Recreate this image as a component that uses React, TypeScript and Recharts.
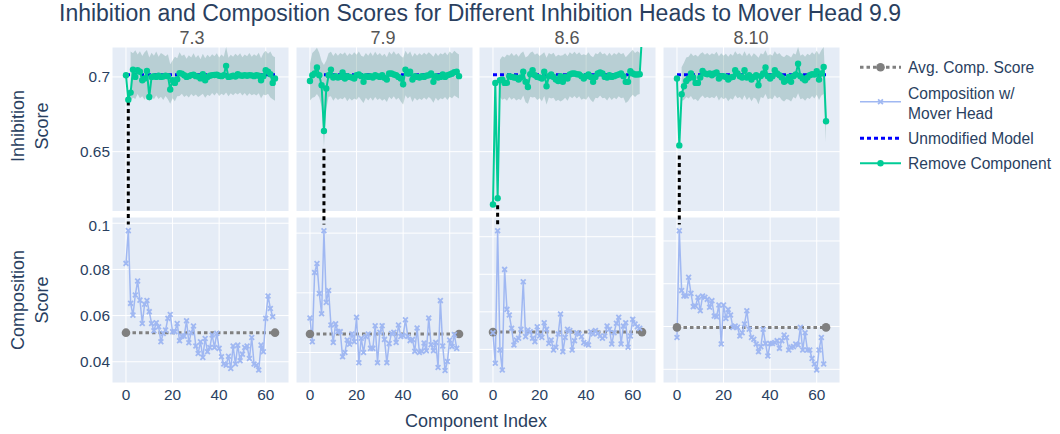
import React from 'react';
import { ComposedChart, Line, Area, XAxis, YAxis, CartesianGrid, ReferenceLine } from 'recharts';

// Inhibition heads shown as columns
const HEADS = ['7.3', '7.9', '8.6', '8.10'];
const LEGEND_LABELS = ['Avg. Comp. Score', 'Composition w/|Mover Head', 'Unmodified Model', 'Remove Component'];

// Inhibition score after removing each component (index 0..64)
const REMOVE_73 = [0.7011, 0.6848, 0.6895, 0.7049, 0.7000, 0.7045, 0.7034, 0.6978, 0.6989, 0.7040, 0.6866, 0.7000, 0.7005, 0.7000, 0.7008, 0.7000, 0.7003, 0.7008, 0.7005, 0.6916, 0.6978, 0.6960, 0.6985, 0.7025, 0.7022, 0.7011, 0.7000, 0.7005, 0.7012, 0.7015, 0.7005, 0.7002, 0.6990, 0.7018, 0.6978, 0.7000, 0.7008, 0.7012, 0.7013, 0.7015, 0.7008, 0.7005, 0.7012, 0.7074, 0.7000, 0.7003, 0.7008, 0.7003, 0.7018, 0.7010, 0.7008, 0.7012, 0.7008, 0.7012, 0.7010, 0.7005, 0.7012, 0.7008, 0.6978, 0.7005, 0.7045, 0.7034, 0.7018, 0.6960, 0.6989];
const REMOVE_79 = [0.6973, 0.7011, 0.7023, 0.7063, 0.7011, 0.6944, 0.6638, 0.6922, 0.7011, 0.7049, 0.6996, 0.7005, 0.6996, 0.7000, 0.7029, 0.6989, 0.7005, 0.7000, 0.6996, 0.6989, 0.7011, 0.7016, 0.7005, 0.6967, 0.7005, 0.7000, 0.7005, 0.6996, 0.7011, 0.7005, 0.7000, 0.7011, 0.6994, 0.6982, 0.7023, 0.7023, 0.7016, 0.7011, 0.7000, 0.6989, 0.6951, 0.7049, 0.7023, 0.7034, 0.6982, 0.7005, 0.7000, 0.6996, 0.7005, 0.7000, 0.7008, 0.7011, 0.7023, 0.6967, 0.7005, 0.6996, 0.7000, 0.7016, 0.7000, 0.7011, 0.7016, 0.7023, 0.7032, 0.7034, 0.7005];
const REMOVE_86 = [0.6147, 0.6960, 0.6189, 0.6978, 0.6982, 0.6960, 0.6960, 0.7005, 0.7000, 0.6996, 0.6994, 0.6982, 0.6996, 0.7034, 0.6967, 0.6933, 0.7018, 0.7045, 0.7011, 0.7000, 0.6996, 0.6989, 0.7034, 0.6938, 0.7005, 0.7016, 0.7000, 0.6982, 0.6973, 0.7005, 0.6967, 0.7000, 0.6989, 0.7016, 0.7023, 0.7023, 0.7018, 0.7016, 0.7005, 0.6989, 0.7005, 0.7016, 0.7000, 0.6967, 0.7000, 0.7023, 0.7029, 0.7023, 0.7000, 0.6996, 0.7011, 0.7000, 0.7005, 0.7011, 0.7016, 0.7023, 0.7005, 0.6967, 0.6967, 0.7038, 0.7023, 0.7016, 0.7016, 0.7018, 0.7280];
const REMOVE_810 = [0.6989, 0.6542, 0.6884, 0.6938, 0.6973, 0.6989, 0.7023, 0.6996, 0.6960, 0.6960, 0.6996, 0.7040, 0.7023, 0.7018, 0.7023, 0.7011, 0.7023, 0.7029, 0.6989, 0.7005, 0.7005, 0.7000, 0.6982, 0.6996, 0.7000, 0.7045, 0.7023, 0.7005, 0.6996, 0.7045, 0.6996, 0.7011, 0.6982, 0.7000, 0.7011, 0.6944, 0.7005, 0.7023, 0.7063, 0.7005, 0.6989, 0.7005, 0.7045, 0.7023, 0.7011, 0.6996, 0.6967, 0.6978, 0.7000, 0.6967, 0.7005, 0.7016, 0.7088, 0.7005, 0.6989, 0.6978, 0.6996, 0.7011, 0.7018, 0.7016, 0.7038, 0.6982, 0.7023, 0.7067, 0.6703];

// Spread band around the remove-component score
const BAND_HI_73 = [null, null, 0.7170, 0.7158, 0.7178, 0.7150, 0.7172, 0.7140, 0.7165, 0.7180, 0.7130, 0.7162, 0.7142, 0.7170, 0.7135, 0.7160, 0.7150, 0.7138, 0.7152, 0.7085, 0.7110, 0.7135, 0.7125, 0.7165, 0.7140, 0.7150, 0.7122, 0.7145, 0.7130, 0.7158, 0.7128, 0.7146, 0.7118, 0.7155, 0.7125, 0.7148, 0.7132, 0.7152, 0.7138, 0.7158, 0.7130, 0.7150, 0.7135, 0.7200, 0.7128, 0.7148, 0.7135, 0.7155, 0.7140, 0.7158, 0.7132, 0.7150, 0.7138, 0.7160, 0.7135, 0.7152, 0.7140, 0.7162, 0.7125, 0.7158, 0.7175, 0.7155, 0.7170, 0.7140, 0.7132];
const BAND_LO_73 = [null, null, 0.6840, 0.6862, 0.6852, 0.6885, 0.6858, 0.6870, 0.6848, 0.6880, 0.6835, 0.6872, 0.6850, 0.6875, 0.6852, 0.6868, 0.6845, 0.6872, 0.6850, 0.6820, 0.6858, 0.6838, 0.6870, 0.6872, 0.6888, 0.6865, 0.6878, 0.6862, 0.6885, 0.6870, 0.6882, 0.6865, 0.6875, 0.6888, 0.6860, 0.6880, 0.6872, 0.6892, 0.6875, 0.6895, 0.6872, 0.6888, 0.6878, 0.6895, 0.6870, 0.6890, 0.6878, 0.6893, 0.6882, 0.6895, 0.6875, 0.6892, 0.6872, 0.6890, 0.6878, 0.6885, 0.6875, 0.6890, 0.6858, 0.6882, 0.6878, 0.6888, 0.6862, 0.6850, 0.6840];
const BAND_HI_79 = [0.7090, 0.7160, 0.7175, 0.7195, 0.7160, 0.7105, 0.7080, 0.7110, 0.7158, 0.7168, 0.7140, 0.7162, 0.7142, 0.7160, 0.7150, 0.7165, 0.7140, 0.7158, 0.7145, 0.7165, 0.7148, 0.7170, 0.7142, 0.7135, 0.7160, 0.7142, 0.7165, 0.7140, 0.7168, 0.7145, 0.7160, 0.7140, 0.7155, 0.7132, 0.7168, 0.7150, 0.7172, 0.7148, 0.7160, 0.7140, 0.7128, 0.7175, 0.7150, 0.7170, 0.7135, 0.7160, 0.7142, 0.7158, 0.7145, 0.7162, 0.7148, 0.7165, 0.7152, 0.7135, 0.7162, 0.7140, 0.7158, 0.7150, 0.7165, 0.7145, 0.7170, 0.7155, 0.7175, 0.7160, 0.7150];
const BAND_LO_79 = [0.6843, 0.6860, 0.6865, 0.6885, 0.6862, 0.6800, 0.6531, 0.6785, 0.6868, 0.6870, 0.6840, 0.6862, 0.6845, 0.6858, 0.6850, 0.6865, 0.6838, 0.6858, 0.6842, 0.6855, 0.6848, 0.6868, 0.6845, 0.6825, 0.6860, 0.6842, 0.6862, 0.6840, 0.6865, 0.6845, 0.6858, 0.6840, 0.6852, 0.6832, 0.6868, 0.6850, 0.6870, 0.6848, 0.6860, 0.6835, 0.6815, 0.6878, 0.6855, 0.6870, 0.6832, 0.6860, 0.6842, 0.6855, 0.6845, 0.6862, 0.6848, 0.6865, 0.6852, 0.6828, 0.6860, 0.6840, 0.6858, 0.6850, 0.6865, 0.6845, 0.6868, 0.6858, 0.6875, 0.6865, 0.6855];
const BAND_HI_86 = [null, null, null, 0.7115, 0.7138, 0.7130, 0.7150, 0.7142, 0.7160, 0.7140, 0.7155, 0.7135, 0.7158, 0.7170, 0.7130, 0.7140, 0.7162, 0.7170, 0.7148, 0.7158, 0.7140, 0.7152, 0.7165, 0.7128, 0.7160, 0.7150, 0.7162, 0.7135, 0.7148, 0.7142, 0.7145, 0.7158, 0.7138, 0.7165, 0.7152, 0.7168, 0.7150, 0.7165, 0.7145, 0.7152, 0.7145, 0.7165, 0.7142, 0.7132, 0.7158, 0.7152, 0.7170, 0.7152, 0.7158, 0.7140, 0.7162, 0.7142, 0.7160, 0.7148, 0.7165, 0.7152, 0.7160, 0.7132, 0.7148, 0.7165, 0.7182, 0.7160, 0.7172, 0.7162, null];
const BAND_LO_86 = [null, null, null, 0.6865, 0.6848, 0.6855, 0.6840, 0.6865, 0.6848, 0.6860, 0.6842, 0.6852, 0.6845, 0.6875, 0.6830, 0.6820, 0.6868, 0.6862, 0.6865, 0.6845, 0.6858, 0.6838, 0.6872, 0.6815, 0.6862, 0.6855, 0.6860, 0.6838, 0.6848, 0.6835, 0.6845, 0.6860, 0.6840, 0.6870, 0.6858, 0.6872, 0.6855, 0.6870, 0.6848, 0.6856, 0.6848, 0.6870, 0.6845, 0.6830, 0.6860, 0.6858, 0.6875, 0.6858, 0.6860, 0.6842, 0.6865, 0.6845, 0.6862, 0.6850, 0.6870, 0.6858, 0.6862, 0.6825, 0.6838, 0.6862, 0.6880, 0.6865, 0.6880, 0.6885, null];
const BAND_HI_810 = [null, null, 0.7065, 0.7095, 0.7130, 0.7135, 0.7158, 0.7140, 0.7148, 0.7135, 0.7155, 0.7165, 0.7148, 0.7160, 0.7145, 0.7158, 0.7150, 0.7168, 0.7138, 0.7158, 0.7142, 0.7155, 0.7135, 0.7155, 0.7142, 0.7172, 0.7150, 0.7158, 0.7140, 0.7172, 0.7140, 0.7160, 0.7135, 0.7158, 0.7145, 0.7128, 0.7158, 0.7150, 0.7178, 0.7142, 0.7152, 0.7142, 0.7172, 0.7150, 0.7160, 0.7140, 0.7132, 0.7148, 0.7142, 0.7130, 0.7158, 0.7150, 0.7200, 0.7142, 0.7152, 0.7135, 0.7155, 0.7145, 0.7165, 0.7150, 0.7175, 0.7148, 0.7178, 0.7200, 0.6850];
const BAND_LO_810 = [null, null, 0.6840, 0.6845, 0.6865, 0.6855, 0.6872, 0.6848, 0.6852, 0.6838, 0.6860, 0.6875, 0.6858, 0.6868, 0.6858, 0.6865, 0.6858, 0.6875, 0.6842, 0.6865, 0.6850, 0.6862, 0.6838, 0.6858, 0.6848, 0.6878, 0.6858, 0.6865, 0.6845, 0.6878, 0.6845, 0.6865, 0.6838, 0.6862, 0.6852, 0.6818, 0.6865, 0.6858, 0.6885, 0.6850, 0.6858, 0.6850, 0.6878, 0.6858, 0.6868, 0.6845, 0.6835, 0.6852, 0.6848, 0.6835, 0.6865, 0.6855, 0.6890, 0.6850, 0.6858, 0.6840, 0.6860, 0.6852, 0.6872, 0.6855, 0.6880, 0.6845, 0.6875, 0.6885, 0.6560];

// Composition score with the mover head (index 0..63)
const COMP_73 = [0.0826, 0.0968, 0.0653, 0.0602, 0.0689, 0.0750, 0.0667, 0.0566, 0.0649, 0.0665, 0.0617, 0.0566, 0.0534, 0.0569, 0.0552, 0.0487, 0.0523, 0.0537, 0.0588, 0.0605, 0.0530, 0.0530, 0.0566, 0.0491, 0.0511, 0.0511, 0.0578, 0.0482, 0.0526, 0.0555, 0.0468, 0.0436, 0.0487, 0.0419, 0.0501, 0.0443, 0.0462, 0.0516, 0.0462, 0.0523, 0.0458, 0.0422, 0.0390, 0.0385, 0.0424, 0.0371, 0.0468, 0.0390, 0.0472, 0.0404, 0.0433, 0.0462, 0.0468, 0.0414, 0.0505, 0.0390, 0.0385, 0.0364, 0.0472, 0.0443, 0.0588, 0.0685, 0.0631, 0.0595];
const COMP_79 = [0.0558, 0.0518, 0.0634, 0.0649, 0.0599, 0.0565, 0.0704, 0.0584, 0.0604, 0.0546, 0.0517, 0.0548, 0.0535, 0.0535, 0.0493, 0.0500, 0.0521, 0.0514, 0.0531, 0.0518, 0.0559, 0.0483, 0.0524, 0.0500, 0.0527, 0.0531, 0.0507, 0.0507, 0.0545, 0.0483, 0.0534, 0.0545, 0.0522, 0.0483, 0.0515, 0.0532, 0.0534, 0.0517, 0.0546, 0.0527, 0.0528, 0.0555, 0.0527, 0.0520, 0.0522, 0.0502, 0.0541, 0.0500, 0.0502, 0.0516, 0.0503, 0.0558, 0.0513, 0.0503, 0.0517, 0.0475, 0.0587, 0.0511, 0.0470, 0.0485, 0.0521, 0.0510, 0.0530, 0.0507];
const COMP_86 = [0.0489, 0.0326, 0.1032, 0.0397, 0.0290, 0.0826, 0.0613, 0.0583, 0.0512, 0.0423, 0.0450, 0.0459, 0.0507, 0.0760, 0.0468, 0.0503, 0.0494, 0.0459, 0.0441, 0.0521, 0.0471, 0.0464, 0.0542, 0.0507, 0.0432, 0.0450, 0.0397, 0.0411, 0.0482, 0.0588, 0.0388, 0.0464, 0.0507, 0.0500, 0.0397, 0.0446, 0.0489, 0.0482, 0.0468, 0.0436, 0.0429, 0.0423, 0.0494, 0.0482, 0.0500, 0.0485, 0.0471, 0.0459, 0.0471, 0.0524, 0.0507, 0.0429, 0.0489, 0.0539, 0.0571, 0.0429, 0.0524, 0.0542, 0.0411, 0.0471, 0.0560, 0.0535, 0.0521, 0.0512];
const COMP_810 = [0.0549, 0.1048, 0.0768, 0.0743, 0.0743, 0.0830, 0.0755, 0.0693, 0.0696, 0.0737, 0.0674, 0.0743, 0.0737, 0.0727, 0.0690, 0.0721, 0.0649, 0.0646, 0.0701, 0.0518, 0.0701, 0.0638, 0.0680, 0.0654, 0.0596, 0.0602, 0.0596, 0.0556, 0.0571, 0.0612, 0.0674, 0.0587, 0.0549, 0.0540, 0.0518, 0.0482, 0.0506, 0.0587, 0.0521, 0.0462, 0.0521, 0.0521, 0.0525, 0.0534, 0.0498, 0.0534, 0.0560, 0.0549, 0.0490, 0.0503, 0.0506, 0.0518, 0.0514, 0.0596, 0.0490, 0.0571, 0.0490, 0.0490, 0.0451, 0.0425, 0.0397, 0.0490, 0.0549, 0.0425];

const AVG_COMP = [0.0526, 0.0531, 0.0492, 0.0596];
const UNMODIFIED = [0.7015, 0.7015, 0.7015, 0.7015];
// where the dotted marker starts in the inhibition panel
const MARK_TOP = [0.6835, 0.652, 0.6142, 0.6475];
const MARK_BOTTOM = 0.6013;

const REMOVE = [REMOVE_73, REMOVE_79, REMOVE_86, REMOVE_810];
const BAND_HI = [BAND_HI_73, BAND_HI_79, BAND_HI_86, BAND_HI_810];
const BAND_LO = [BAND_LO_73, BAND_LO_79, BAND_LO_86, BAND_LO_810];
const COMP = [COMP_73, COMP_79, COMP_86, COMP_810];

const X_TICKS = [0, 20, 40, 60];
const TOP_TICKS = [0.65, 0.7];
const COMP_TICKS = [[0.04, 0.06, 0.08, 0.1], [0.05, 0.06, 0.07], [0.04, 0.06, 0.08, 0.1], [0.04, 0.06, 0.08, 0.1]];

// axis ranges
const X_DOMAIN: [number, number] = [-6, 70];
const TOP_DOMAIN: [number, number] = [0.61, 0.72];
const COMP_DOMAIN: [number, number][] = [[0.0308, 0.1027], [0.0449, 0.0727], [0.0221, 0.1105], [0.0336, 0.1112]];

const BG = '#E5ECF6';
const TEXT = '#2a3f5f';
const GREEN = '#00CC96';
const COMP_COLOR = '#A0B8F2';
const FONT = '"Liberation Sans", Arial, sans-serif';

const PANEL_LEFT = [112, 295.7, 479.4, 663.1];
const PANEL_W = 177;
const TOP_Y = 47;
const TOP_H = 164.5;
const BOT_Y = 217;
const BOT_H = 166;
const Y_AXIS_W = 60;
const X_AXIS_H = 28;
const TITLE_X = [192, 383, 567, 751];

const tickStyle = { fill: TEXT, fontSize: 15.4, fontFamily: FONT };

const buildRows = (c: number) =>
    REMOVE[c].map((r, i) => ({
        idx: i,
        remove: r,
        unmod: UNMODIFIED[c],
        band: BAND_LO[c][i] == null ? null : [BAND_LO[c][i], BAND_HI[c][i]],
        comp: i < COMP[c].length ? COMP[c][i] : null,
        avg: i === 0 || i === REMOVE[c].length - 1 ? AVG_COMP[c] : null,
    }));

const XMark = (props: any) => {
    const { cx, cy, index } = props;
    if (cx == null || cy == null) return <g key={`x-${index}`} />;
    const s = 2.4;
    return (
        <path
            key={`x-${index}`}
            d={`M${cx - s},${cy - s}L${cx + s},${cy + s}M${cx - s},${cy + s}L${cx + s},${cy - s}`}
            stroke={COMP_COLOR}
            strokeWidth={1.8}
        />
    );
};

const TopPanel = ({ c }: { c: number }) => {
    const rows = buildRows(c);
    const peak = COMP[c].indexOf(Math.max(...COMP[c]));
    const extra = c === 0 ? Y_AXIS_W : 0;
    return (
        <div style={{ position: 'absolute', left: PANEL_LEFT[c] - extra, top: TOP_Y, zIndex: 2 }}>
            <ComposedChart width={PANEL_W + extra} height={TOP_H} data={rows} margin={{ top: 0, right: 0, bottom: 0, left: 0 }}>
                <CartesianGrid fill={BG} stroke="#fff" strokeWidth={1} />
                <XAxis type="number" dataKey="idx" domain={X_DOMAIN} ticks={X_TICKS} hide allowDataOverflow />
                <YAxis
                    type="number"
                    domain={TOP_DOMAIN}
                    ticks={TOP_TICKS}
                    allowDataOverflow
                    hide={c !== 0}
                    width={extra}
                    tick={tickStyle}
                    tickLine={false}
                    axisLine={false}
                    tickSize={0}
                    tickMargin={2}
                />
                <Area dataKey="band" stroke="none" fill="#4E8C86" fillOpacity={0.3} isAnimationActive={false} dot={false} activeDot={false} />
                <Line dataKey="unmod" stroke="#0000FF" strokeWidth={3} strokeDasharray="4 3" dot={false} activeDot={false} isAnimationActive={false} />
                <Line
                    dataKey="remove"
                    stroke={GREEN}
                    strokeWidth={2}
                    dot={{ r: 3.2, fill: GREEN, stroke: GREEN, strokeWidth: 0 }}
                    activeDot={false}
                    isAnimationActive={false}
                />
                <ReferenceLine
                    segment={[{ x: peak, y: MARK_TOP[c] }, { x: peak, y: MARK_BOTTOM }]}
                    ifOverflow="visible"
                    stroke="#000"
                    strokeWidth={3}
                    strokeDasharray="4 3.5"
                />
            </ComposedChart>
        </div>
    );
};

const BottomPanel = ({ c }: { c: number }) => {
    const rows = buildRows(c);
    const extra = c === 0 ? Y_AXIS_W : 0;
    return (
        <div style={{ position: 'absolute', left: PANEL_LEFT[c] - extra, top: BOT_Y, zIndex: 1 }}>
            <ComposedChart width={PANEL_W + extra} height={BOT_H + X_AXIS_H} data={rows} margin={{ top: 0, right: 0, bottom: 0, left: 0 }}>
                <CartesianGrid fill={BG} stroke="#fff" strokeWidth={1} />
                <XAxis
                    type="number"
                    dataKey="idx"
                    domain={X_DOMAIN}
                    ticks={X_TICKS}
                    allowDataOverflow
                    height={X_AXIS_H}
                    tick={tickStyle}
                    tickLine={false}
                    axisLine={false}
                    tickSize={0}
                    tickMargin={6.5}
                />
                <YAxis
                    type="number"
                    domain={COMP_DOMAIN[c]}
                    ticks={COMP_TICKS[c]}
                    allowDataOverflow
                    hide={c !== 0}
                    width={extra}
                    tick={tickStyle}
                    tickLine={false}
                    axisLine={false}
                    tickSize={0}
                    tickMargin={2}
                />
                <Line
                    dataKey="avg"
                    connectNulls
                    stroke="#808080"
                    strokeWidth={3}
                    strokeDasharray="3.5 3"
                    dot={{ r: 4.3, fill: '#808080', stroke: '#808080', strokeWidth: 0 }}
                    activeDot={false}
                    isAnimationActive={false}
                />
                <Line
                    dataKey="comp"
                    stroke={COMP_COLOR}
                    strokeWidth={1.5}
                    dot={(p: any) => <XMark key={`x-${p.index}`} {...p} />}
                    activeDot={false}
                    isAnimationActive={false}
                />
            </ComposedChart>
        </div>
    );
};

const Legend = () => {
    const rowsY = [67.3, 101.7, 138.3, 163.3];
    return (
        <g fontFamily={FONT} fontSize={15.6} fill={TEXT}>
            <line x1={860} x2={901} y1={rowsY[0]} y2={rowsY[0]} stroke="#808080" strokeWidth={3} strokeDasharray="3.5 3" />
            <circle cx={880.5} cy={rowsY[0]} r={4.3} fill="#808080" />
            <line x1={860} x2={901} y1={rowsY[1]} y2={rowsY[1]} stroke={COMP_COLOR} strokeWidth={1.5} />
            <XMark cx={880.5} cy={rowsY[1]} index="legend" />
            <line x1={860} x2={901} y1={rowsY[2]} y2={rowsY[2]} stroke="#0000FF" strokeWidth={3} strokeDasharray="4 3" />
            <line x1={860} x2={901} y1={rowsY[3]} y2={rowsY[3]} stroke={GREEN} strokeWidth={2} />
            <circle cx={880.5} cy={rowsY[3]} r={3.2} fill={GREEN} />
            <text x={908} y={rowsY[0] + 5.6}>{LEGEND_LABELS[0]}</text>
            <text x={908} y={93.3 + 5.6}>{LEGEND_LABELS[1].split('|')[0]}</text>
            <text x={908} y={113.3 + 5.6}>{LEGEND_LABELS[1].split('|')[1]}</text>
            <text x={908} y={rowsY[2] + 5.6}>{LEGEND_LABELS[2]}</text>
            <text x={908} y={rowsY[3] + 5.6}>{LEGEND_LABELS[3]}</text>
        </g>
    );
};

const App = () => {
    return (
        <div style={{ position: 'relative', width: 1060, height: 434, background: '#fff', overflow: 'hidden' }}>
            <style>{`body{margin:0} .recharts-surface{overflow:visible}`}</style>
            {HEADS.map((h, c) => (
                <BottomPanel key={`b-${h}`} c={c} />
            ))}
            {HEADS.map((h, c) => (
                <TopPanel key={`t-${h}`} c={c} />
            ))}
            <svg width={1060} height={434} style={{ position: 'absolute', left: 0, top: 0, zIndex: 3, pointerEvents: 'none' }}>
                <text x={59} y={21} fontFamily={FONT} fontSize={23} fill={TEXT}>
                    Inhibition and Composition Scores for Different Inhibition Heads to Mover Head 9.9
                </text>
                {HEADS.map((h, c) => (
                    <text key={h} x={TITLE_X[c]} y={43.7} textAnchor="middle" fontFamily={FONT} fontSize={18} fill="#555">
                        {h}
                    </text>
                ))}
                <g fontFamily={FONT} fontSize={18} fill={TEXT} textAnchor="middle">
                    <text transform="translate(24,126) rotate(-90)">Inhibition</text>
                    <text transform="translate(48.3,126) rotate(-90)">Score</text>
                    <text transform="translate(24,300) rotate(-90)">Composition</text>
                    <text transform="translate(48.3,300) rotate(-90)">Score</text>
                    <text x={476} y={426.5}>Component Index</text>
                </g>
                <Legend />
            </svg>
        </div>
    );
};

export default App;
